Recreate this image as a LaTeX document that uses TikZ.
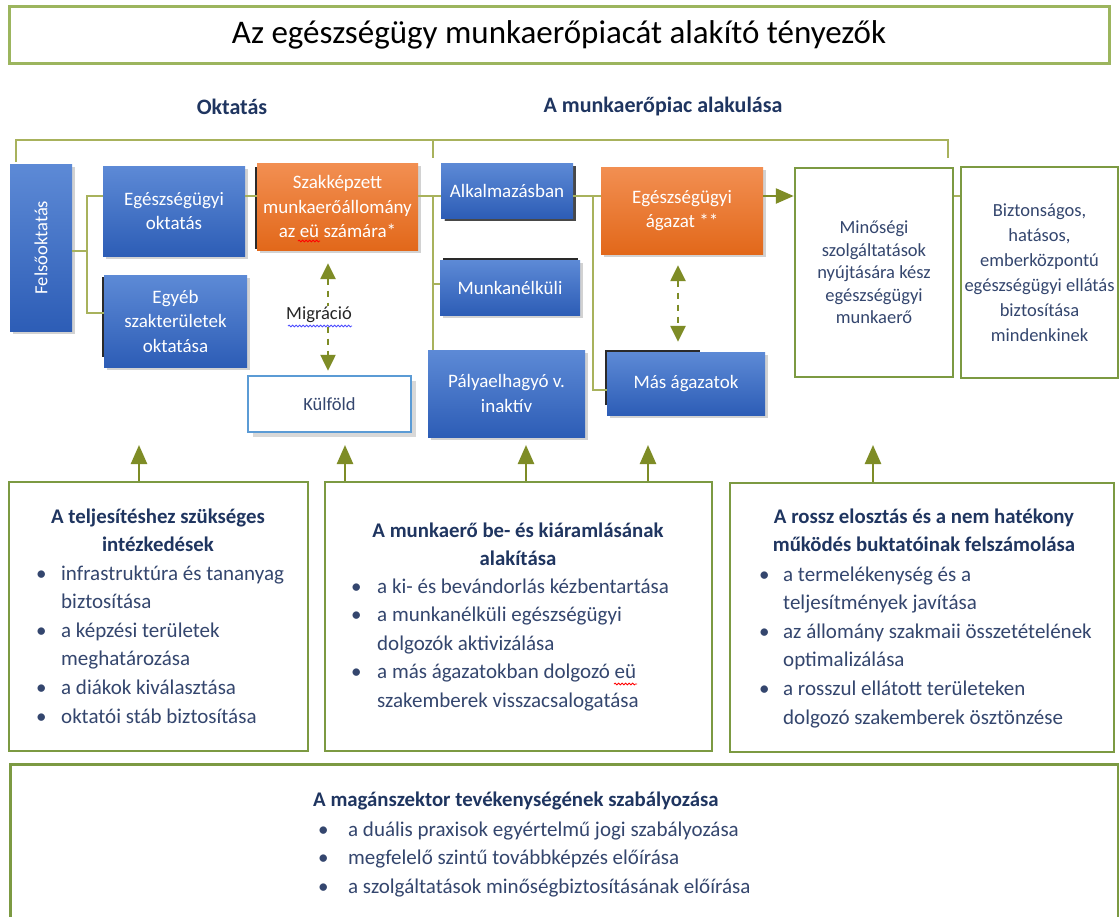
\documentclass[tikz,border=0pt]{standalone}
\usepackage{fontspec}
\setmainfont{Carlito}
\usetikzlibrary{arrows.meta,shadows,decorations.pathmorphing}
\definecolor{bltop}{HTML}{5D8AD6}
\definecolor{blbot}{HTML}{2D5DB6}
\definecolor{ortop}{HTML}{F28F52}
\definecolor{orbot}{HTML}{E2681A}
\definecolor{grb}{HTML}{7C9A42}
\definecolor{ttl}{HTML}{9CB55E}
\definecolor{lnc}{HTML}{A8B25C}
\definecolor{arrc}{HTML}{7E8C26}
\definecolor{navy}{HTML}{1F3560}
\definecolor{txtb}{HTML}{34466E}
\definecolor{kulb}{HTML}{5B9BD5}
\definecolor{dk}{HTML}{2A2A2A}
\begin{document}
\begin{tikzpicture}[x=1pt,y=-1pt,
  bluebox/.style={shade, top color=bltop, bottom color=blbot, draw=none,
    drop shadow={shadow xshift=2.5pt, shadow yshift=-3pt, opacity=.35},
    text=white, align=center, inner sep=2pt, font=\fontsize{19}{24.5}\selectfont},
  orbox/.style={bluebox, top color=ortop, bottom color=orbot},
  grbox/.style={draw=grb, line width=2.5pt, fill=white},
  conn/.style={draw=lnc, line width=2pt},
  brk/.style={draw=lnc, line width=1.6pt},
  arr/.style={draw=arrc, line width=2.5pt, -{Triangle[width=15pt,length=18pt]}},
  uparr/.style={draw=arrc, line width=2.5pt, -{Triangle[width=16pt,length=19pt]}},
  dasharr/.style={draw=arrc, line width=2.5pt, dash pattern=on 6pt off 6pt,
    {Triangle[width=15pt,length=16pt]}-{Triangle[width=15pt,length=16pt]}},
  hd1/.style={font=\fontsize{22}{26}\selectfont\bfseries, text=navy},
  hd2/.style={font=\fontsize{20.8}{28}\selectfont\bfseries, text=navy, inner sep=0},
  lst/.style={font=\fontsize{21}{28.6}\selectfont, text=txtb, inner sep=0},
  wtxt/.style={font=\fontsize{18.5}{22.5}\selectfont, text=txtb, align=center},
  wavyr/.style={draw=red, line width=.8pt, decorate, decoration={snake, amplitude=.9pt, segment length=3.5pt}},
  wavyb/.style={draw=blue!70, line width=.8pt, decorate, decoration={snake, amplitude=.9pt, segment length=3.5pt}}
]
\useasboundingbox (0,0) rectangle (1119,916);
\fill[white] (0,0) rectangle (1119,916);

% title
\node[draw=ttl, line width=3pt, minimum width=1100, minimum height=57,
  font=\fontsize{33}{38}\selectfont] (title) at (559,34.5) {Az egészségügy munkaerőpiacát alakító tényezők};

% section headings
\node[hd1] (okt) at (232,107) {Oktatás};
\node[hd1] (mpiac) at (663,107) {A munkaerőpiac alakulása};

% bracket
\draw[brk] (16,162) -- (16,140) -- (948,140) -- (948,158);
\draw[brk] (433,140) -- (433,158);

% dark edges
\draw[dk, line width=1.8pt] (260,167.5) -- (255.8,167.5) -- (255.8,248) -- (260,248);
\fill[dk] (445,166) rectangle (575.5,220.5);
\fill[dk] (443,257.8) rectangle (578,300);
\fill[dk] (605,350) rectangle (700,405);
\fill[dk] (101.8,277) rectangle (150,357);

% top boxes
\node[bluebox, minimum width=62, minimum height=167] (felso) at (41,247.5) {};
\node[rotate=90, text=white, font=\fontsize{18.5}{22}\selectfont] (felsotxt) at (felso.center) {Felsőoktatás};
\node[bluebox, minimum width=142, minimum height=90] (egeszokt) at (174,211) {Egészségügyi\\oktatás};
\node[bluebox, minimum width=143, minimum height=92] (egyeb) at (175.5,321) {Egyéb\\szakterületek\\oktatása};
\node[orbox, minimum width=161, minimum height=87] (szakk) at (337.5,206.5) {Szakképzett\\munkaerőállomány\\az eü számára*};
\node[draw=kulb, line width=2.5pt, fill=white, minimum width=163, minimum height=56,
  drop shadow={shadow xshift=5pt, shadow yshift=-5pt, opacity=.3},
  text=txtb, font=\fontsize{18.5}{22}\selectfont] (kulf) at (329.5,404) {Külföld};
\node[bluebox, minimum width=132, minimum height=55] (alk) at (507,190.5) {Alkalmazásban};
\node[bluebox, minimum width=140, minimum height=55] (munka) at (510,287.5) {Munkanélküli};
\node[bluebox, minimum width=157, minimum height=87] (palya) at (506.5,393.5) {Pályaelhagyó v.\\inaktív};
\node[orbox, minimum width=162, minimum height=87] (eszag) at (682,210.5) {Egészségügyi\\ágazat **};
\node[bluebox, minimum width=158, minimum height=63] (mas) at (686,383.5) {Más ágazatok};
\node[grbox, minimum width=158, minimum height=209, wtxt] (minoseg) at (874,272.5)
  {Minőségi\\szolgáltatások\\nyújtására kész\\egészségügyi\\munkaerő};
\node[grbox, minimum width=155, minimum height=211, wtxt, font=\fontsize{18.5}{25}\selectfont] (bizt) at (1039.5,272.5)
  {Biztonságos,\\hatásos,\\emberközpontú\\egészségügyi ellátás\\biztosítása\\mindenkinek};

% connectors
\coordinate (yA) at (0,196);
\coordinate (yB) at (0,313);
\coordinate (yM) at (0,284);
\coordinate (yS) at (0,390);
\coordinate (j1) at (87,251);
\coordinate (j2) at (433,196);
\coordinate (j3) at (593,196);
\draw[conn] (felso.east |- j1) -- (j1);
\draw[conn] (egeszokt.west |- yA) -| (j1 |- yB) -- (egyeb.west |- yB);
\draw[conn] (egeszokt.east |- yA) -- (szakk.west |- yA);
\draw[conn] (szakk.east |- j2) -- (alk.west |- j2);
\draw[conn] (j2) -- (palya.north -| j2);
\draw[conn] (j2 |- yM) -- (munka.west |- yM);
\draw[conn] (alk.east |- j3) -- (eszag.west |- j3);
\draw[conn] (j3) |- (mas.west |- yS);
\draw[arr] (eszag.east |- yA) -- (minoseg.west |- yA);
\draw[conn] (minoseg.east |- yA) -- (bizt.west |- yA);

% dashed double arrows
\coordinate (mx) at (328,0);
\coordinate (ax) at (678,0);
\draw[dasharr, shorten <=13pt, shorten >=4pt] (szakk.south -| mx) -- (kulf.north -| mx);
\node[fill=white, inner sep=1pt, text=black!85, font=\fontsize{18.5}{22}\selectfont] (migr) at (319,315) {Migráció};
\draw[dasharr, shorten <=11pt, shorten >=10pt] (eszag.south -| ax) -- (mas.north -| ax);

% bottom boxes
\node[grbox, minimum width=299, minimum height=269] (boxA) at (158.5,616.5) {};
\node[grbox, minimum width=387, minimum height=269] (boxB) at (518.5,616.5) {};
\node[grbox, minimum width=384, minimum height=269] (boxC) at (922,617.5) {};
\node[grbox, minimum width=1108, minimum height=190, anchor=north west] (boxD) at (9,763) {};

% up arrows
\coordinate (uA) at (139,445);
\coordinate (uB1) at (345,445);
\coordinate (uB2) at (526,445);
\coordinate (uB3) at (648,445);
\coordinate (uC) at (873,445);
\draw[uparr] (boxA.north -| uA) -- (uA);
\draw[uparr] (boxB.north -| uB1) -- (uB1);
\draw[uparr] (boxB.north -| uB2) -- (uB2);
\draw[uparr] (boxB.north -| uB3) -- (uB3);
\draw[uparr] (boxC.north -| uC) -- (uC);

% box A text
\node[hd2, anchor=base] (hA) at (158,523) {\begin{tabular}[t]{@{}c@{}}A teljesítéshez szükséges\\intézkedések\end{tabular}};
\node[lst, anchor=base west] (lA) at (36,580) {\begin{tabular}[t]{@{}p{25pt}@{}l@{}}
\textbullet & infrastruktúra és tananyag\\
 & biztosítása\\
\textbullet & a képzési területek\\
 & meghatározása\\
\textbullet & a diákok kiválasztása\\
\textbullet & oktatói stáb biztosítása
\end{tabular}};

% box B text
\node[hd2, anchor=base] (hB) at (518,537) {\begin{tabular}[t]{@{}c@{}}A munkaerő be- és kiáramlásának\\alakítása\end{tabular}};
\node[lst, anchor=base west] (lB) at (351,593) {\begin{tabular}[t]{@{}p{26pt}@{}l@{}}
\textbullet & a ki- és bevándorlás kézbentartása\\
\textbullet & a munkanélküli egészségügyi\\
 & dolgozók aktivizálása\\
\textbullet & a más ágazatokban dolgozó eü\\
 & szakemberek visszacsalogatása
\end{tabular}};

% box C text
\node[hd2, anchor=base] (hC) at (924,523) {\begin{tabular}[t]{@{}c@{}}A rossz elosztás és a nem hatékony\\működés buktatóinak felszámolása\end{tabular}};
\node[lst, anchor=base west] (lC) at (759,581) {\begin{tabular}[t]{@{}p{24pt}@{}l@{}}
\textbullet & a termelékenység és a\\
 & teljesítmények javítása\\
\textbullet & az állomány szakmaii összetételének\\
 & optimalizálása\\
\textbullet & a rosszul ellátott területeken\\
 & dolgozó szakemberek ösztönzése
\end{tabular}};

% box D text
\node[hd2, anchor=base west] (hD) at (313,806) {A magánszektor tevékenységének szabályozása};
\node[lst, anchor=base west] (lD) at (318,836) {\begin{tabular}[t]{@{}p{30pt}@{}l@{}}
\textbullet & a duális praxisok egyértelmű jogi szabályozása\\
\textbullet & megfelelő szintű továbbképzés előírása\\
\textbullet & a szolgáltatások minőségbiztosításának előírása
\end{tabular}};

% spell-check underlines
\draw[wavyb] (288,326) -- (352,326);
\draw[wavyr] (298,241) -- (320,241);
\draw[wavyr] (614,684) -- (637,684);
\end{tikzpicture}
\end{document}
